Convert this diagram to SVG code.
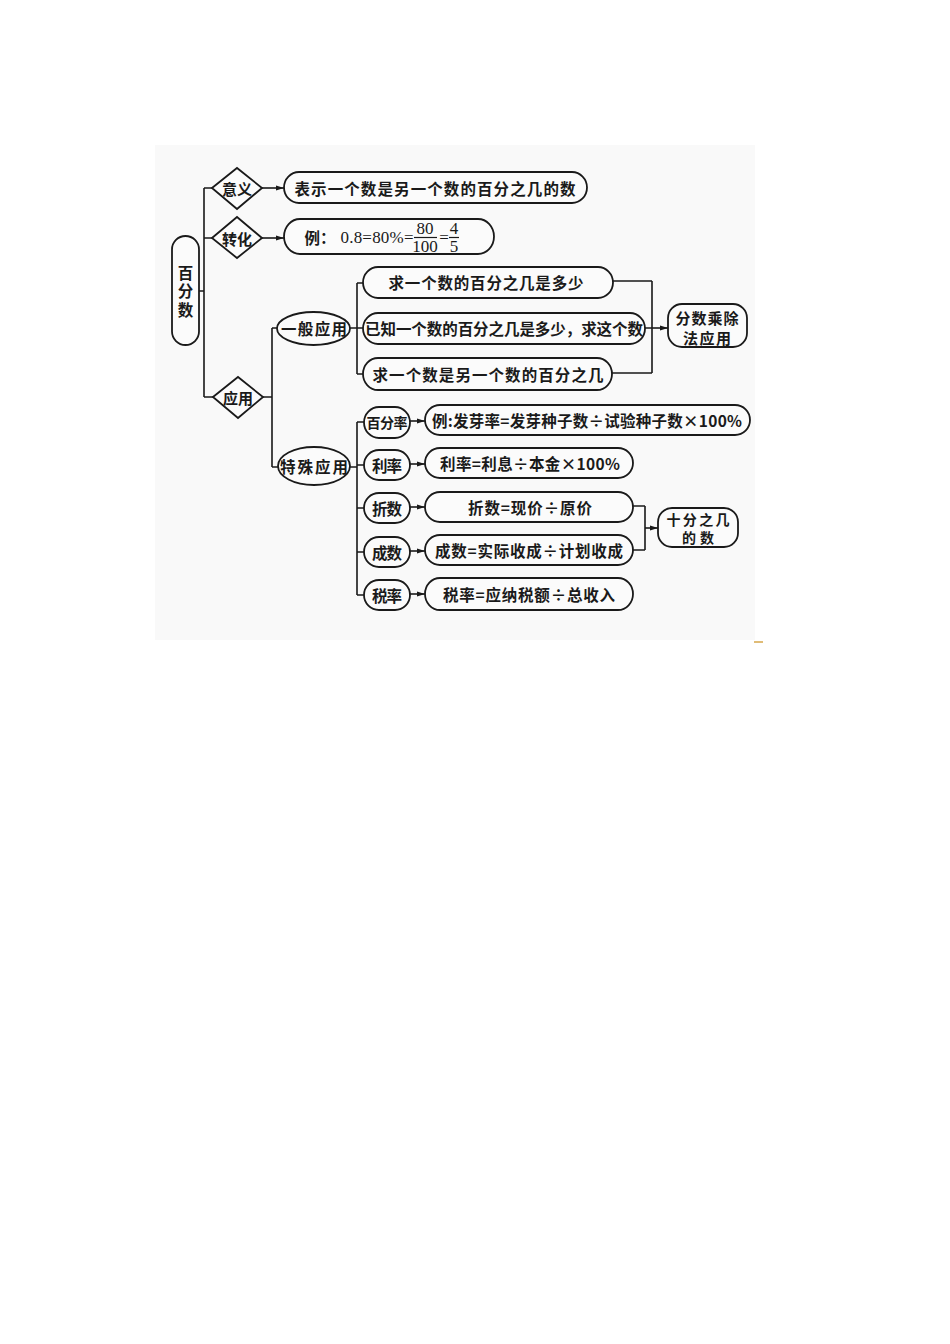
<svg xmlns="http://www.w3.org/2000/svg" width="950" height="1344" viewBox="0 0 950 1344">
<defs>
<style>
.ln{fill:none;stroke:#1a1a1a;stroke-width:1.6}
.bx{fill:#fbfbfb;stroke:#1a1a1a;stroke-width:1.8}
.t{font-family:"Noto Sans CJK SC","Liberation Serif",sans-serif;font-weight:700;font-size:15.5px;fill:#1a1a1a;text-anchor:middle;dominant-baseline:central}
.n{font-family:"Liberation Serif","Noto Sans CJK SC",serif;font-size:17px;fill:#1a1a1a;text-anchor:middle;dominant-baseline:central}
.v{writing-mode:vertical-rl;text-orientation:upright;letter-spacing:3px}
</style>
<marker id="ar" viewBox="0 0 8 6" refX="8" refY="3" markerWidth="8" markerHeight="6" markerUnits="userSpaceOnUse" orient="auto">
<path d="M0,0.5 L8,3 L0,5.5 Z" fill="#1a1a1a"/>
</marker>
</defs>
<rect x="0" y="0" width="950" height="1344" fill="#ffffff"/>
<rect x="155" y="145" width="600" height="495" fill="#f9f9f9"/>
<line x1="754" y1="642" x2="763" y2="642" stroke="#d6a64a" stroke-width="1.5"/>

<g id="connectors">
<path class="ln" d="M199,291 H204 M204,188 V397 M204,188 H212 M204,238 H212 M204,397 H213"/>
<line class="ln" x1="262" y1="188" x2="284" y2="188" marker-end="url(#ar)"/>
<line class="ln" x1="262" y1="238" x2="284" y2="238" marker-end="url(#ar)"/>
<path class="ln" d="M263,397 H272 M272,328 V467 M272,328 H277 M272,467 H278"/>
<path class="ln" d="M350,328 H363 M357,283 V374 M357,283 H363 M357,374 H363"/>
<path class="ln" d="M613,281 H652 M612,373 H652 M652,281 V373 M645,328 H652"/>
<line class="ln" x1="652" y1="328" x2="668" y2="328" marker-end="url(#ar)"/>
<path class="ln" d="M350,467 H357 M357,422 V595 M357,422 H364 M357,465 H364 M357,508 H364 M357,552 H364 M357,595 H364"/>
<line class="ln" x1="410" y1="421" x2="425" y2="421" marker-end="url(#ar)"/>
<line class="ln" x1="410" y1="464" x2="425" y2="464" marker-end="url(#ar)"/>
<line class="ln" x1="410" y1="507" x2="425" y2="507" marker-end="url(#ar)"/>
<line class="ln" x1="410" y1="551" x2="425" y2="551" marker-end="url(#ar)"/>
<line class="ln" x1="410" y1="594" x2="425" y2="594" marker-end="url(#ar)"/>
<path class="ln" d="M633,506 H645 M633,550 H645 M645,506 V550"/>
<line class="ln" x1="645" y1="528" x2="658" y2="528" marker-end="url(#ar)"/>
</g>

<g id="root">
<rect class="bx" x="172" y="236" width="27" height="109" rx="13.5" ry="13.5"/>
<text class="t v" x="185.5" y="293">百分数</text>
</g>

<g id="yiyi">
<polygon class="bx" points="212,188 237,168 262,188 237,209"/>
<text class="t" x="237" y="188" style="font-size:15px">意义</text>
</g>
<g id="yiyi-def">
<rect class="bx" x="284" y="172" width="303" height="31" rx="15" ry="15.5"/>
<text class="t" x="435" y="187.5" textLength="281" lengthAdjust="spacing">表示一个数是另一个数的百分之几的数</text>
</g>

<g id="zhuanhua">
<polygon class="bx" points="212,238 237,217 262,238 237,258"/>
<text class="t" x="237" y="238" style="font-size:15px">转化</text>
</g>
<g id="zhuanhua-ex">
<rect class="bx" x="284" y="219" width="210" height="35" rx="16" ry="17.5"/>
<text class="t" x="320" y="237">例：</text>
<text class="n" x="377" y="237" textLength="73" lengthAdjust="spacing">0.8=80%=</text>
<text class="n" x="425" y="228">80</text>
<line x1="414" y1="237.5" x2="437" y2="237.5" stroke="#1a1a1a" stroke-width="1.2"/>
<text class="n" x="425" y="246">100</text>
<text class="n" x="444" y="237">=</text>
<text class="n" x="454" y="228">4</text>
<line x1="449" y1="237.5" x2="459" y2="237.5" stroke="#1a1a1a" stroke-width="1.2"/>
<text class="n" x="454" y="246">5</text>
</g>

<g id="yingyong">
<polygon class="bx" points="213,397 238,377 263,397 238,418"/>
<text class="t" x="238" y="397" style="font-size:15px">应用</text>
</g>

<g id="yiban">
<ellipse class="bx" cx="313.5" cy="328.5" rx="36.5" ry="16.5"/>
<text class="t" x="314" y="328" textLength="66" lengthAdjust="spacing">一般应用</text>
</g>
<g id="g1">
<rect class="bx" x="363" y="267" width="250" height="31" rx="15" ry="15.5"/>
<text class="t" x="486" y="282" textLength="195" lengthAdjust="spacing">求一个数的百分之几是多少</text>
</g>
<g id="g2">
<rect class="bx" x="363" y="313" width="282" height="31" rx="15" ry="15.5"/>
<text class="t" x="504" y="328" textLength="278" lengthAdjust="spacing">已知一个数的百分之几是多少，求这个数</text>
</g>
<g id="g3">
<rect class="bx" x="363" y="358" width="249" height="32" rx="15" ry="16"/>
<text class="t" x="488" y="374" textLength="231" lengthAdjust="spacing">求一个数是另一个数的百分之几</text>
</g>
<g id="fenshu">
<rect class="bx" x="668" y="304" width="79" height="43" rx="14" ry="14"/>
<text class="t" style="font-size:15px"><tspan x="707" y="317" textLength="63" lengthAdjust="spacing">分数乘除</tspan><tspan x="707" y="337" textLength="48" lengthAdjust="spacing">法应用</tspan></text>
</g>

<g id="teshu">
<ellipse class="bx" cx="314" cy="466" rx="36" ry="19"/>
<text class="t" x="314" y="466" textLength="68" lengthAdjust="spacing">特殊应用</text>
</g>

<g id="s1">
<rect class="bx" x="364" y="407" width="46" height="31" rx="15" ry="15.5"/>
<text class="t" x="387" y="422" textLength="41" lengthAdjust="spacing" style="font-size:14px">百分率</text>
</g>
<g id="s2">
<rect class="bx" x="364" y="450" width="46" height="30" rx="15" ry="15"/>
<text class="t" x="387" y="465" textLength="30" lengthAdjust="spacing">利率</text>
</g>
<g id="s3">
<rect class="bx" x="364" y="493" width="46" height="30" rx="15" ry="15"/>
<text class="t" x="387" y="508" textLength="30" lengthAdjust="spacing">折数</text>
</g>
<g id="s4">
<rect class="bx" x="364" y="537" width="46" height="30" rx="15" ry="15"/>
<text class="t" x="387" y="552" textLength="30" lengthAdjust="spacing">成数</text>
</g>
<g id="s5">
<rect class="bx" x="364" y="580" width="46" height="30" rx="15" ry="15"/>
<text class="t" x="387" y="595" textLength="30" lengthAdjust="spacing">税率</text>
</g>

<g id="f1">
<rect class="bx" x="425" y="405" width="325" height="30" rx="15" ry="15"/>
<text class="t" x="587" y="420" textLength="310" lengthAdjust="spacing">例:发芽率=发芽种子数÷试验种子数×100%</text>
</g>
<g id="f2">
<rect class="bx" x="425" y="448" width="208" height="30" rx="15" ry="15"/>
<text class="t" x="530" y="463" textLength="180" lengthAdjust="spacing">利率=利息÷本金×100%</text>
</g>
<g id="f3">
<rect class="bx" x="425" y="492" width="208" height="30" rx="15" ry="15"/>
<text class="t" x="530" y="507" textLength="124" lengthAdjust="spacing">折数=现价÷原价</text>
</g>
<g id="f4">
<rect class="bx" x="425" y="535" width="208" height="30" rx="15" ry="15"/>
<text class="t" x="529" y="550" textLength="188" lengthAdjust="spacing">成数=实际收成÷计划收成</text>
</g>
<g id="f5">
<rect class="bx" x="425" y="578" width="208" height="32" rx="15" ry="16"/>
<text class="t" x="529" y="594" textLength="172" lengthAdjust="spacing">税率=应纳税额÷总收入</text>
</g>

<g id="shifen">
<rect class="bx" x="658" y="508" width="80" height="39" rx="14" ry="14"/>
<text class="t" style="font-size:14px"><tspan x="698" y="519" textLength="63" lengthAdjust="spacing">十分之几</tspan><tspan x="698" y="537" textLength="32" lengthAdjust="spacing">的数</tspan></text>
</g>
</svg>
